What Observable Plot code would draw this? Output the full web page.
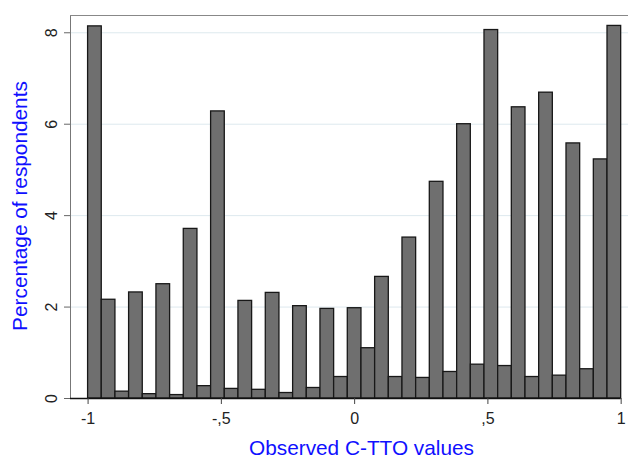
<!DOCTYPE html>
<html><head><meta charset="utf-8">
<script src="https://cdn.jsdelivr.net/npm/d3@7"></script>
<script src="https://cdn.jsdelivr.net/npm/@observablehq/plot@0.6"></script>
<style>body{margin:0;background:#fff} #chart svg{display:block}</style>
</head><body><div id="chart"></div>
<script>
// Percentage of respondents per bin (39 equal bins from -1 to 1)
const percentages = [8.14, 2.16, 0.15, 2.32, 0.095, 2.50, 0.075, 3.71, 0.27, 6.28,
  0.21, 2.135, 0.19, 2.31, 0.12, 2.02, 0.23, 1.96, 0.47, 1.975,
  1.10, 2.66, 0.47, 3.52, 0.45, 4.74, 0.58, 6.00, 0.74, 8.06,
  0.71, 6.37, 0.47, 6.69, 0.50, 5.58, 0.64, 5.23, 8.15];
const binStart = -1, binEnd = 1;
const xTicks = [-1, -0.5, 0, 0.5, 1];
const xTickLabels = ["-1", "-,5", "0", ",5", "1"];
const yTicks = [0, 2, 4, 6, 8];
const xTitle = "Observed C-TTO values";
const yTitle = "Percentage of respondents";

const binWidth = (binEnd - binStart) / percentages.length;
const bins = percentages.map((v, i) => ({x1: binStart + i * binWidth, x2: binStart + (i + 1) * binWidth, pct: v}));
const xMin = -1.066, xMax = 1.0275, yMax = 8.378;

const chart = Plot.plot({
  width: 628, height: 457,
  marginLeft: 70, marginRight: 0, marginTop: 15, marginBottom: 59,
  style: {fontFamily: "'Liberation Sans', Arial, sans-serif", background: "#fff", color: "#222"},
  x: {domain: [xMin, xMax]},
  y: {domain: [0, yMax]},
  marks: [
    Plot.ruleY(yTicks.filter(d => d > 0), {stroke: "#dde9ee", strokeWidth: 1}),
    Plot.rectY(bins, {x1: "x1", x2: "x2", y: "pct", fill: "#6f6f6f", stroke: "#181818", strokeWidth: 1.3}),
    Plot.ruleX([xMin], {y1: 0, y2: yMax, stroke: "#777"}),
    Plot.ruleY([yMax], {stroke: "#888"}),
    Plot.ruleY([0], {x1: xMin, x2: binEnd, stroke: "#111", strokeWidth: 1.5}),
    Plot.axisX({ticks: xTicks, tickFormat: d => xTickLabels[xTicks.indexOf(d)], tickSize: 6, tickPadding: 8, fontSize: 16, label: null, stroke: "#444"}),
    Plot.axisY({ticks: yTicks, tickSize: 6, tickRotate: -90, tickPadding: 8, fontSize: 16, label: null, stroke: "#666"}),
    Plot.text([xTitle], {frameAnchor: "bottom", dx: 12, dy: 56, lineAnchor: "bottom", fontSize: 20.8, fill: "#1010ff"}),
    Plot.text([yTitle], {frameAnchor: "left", dx: -50, dy: -1, rotate: -90, textAnchor: "middle", fontSize: 20.8, fill: "#1010ff"})
  ]
});
document.getElementById("chart").append(chart);
</script>
</body></html>
